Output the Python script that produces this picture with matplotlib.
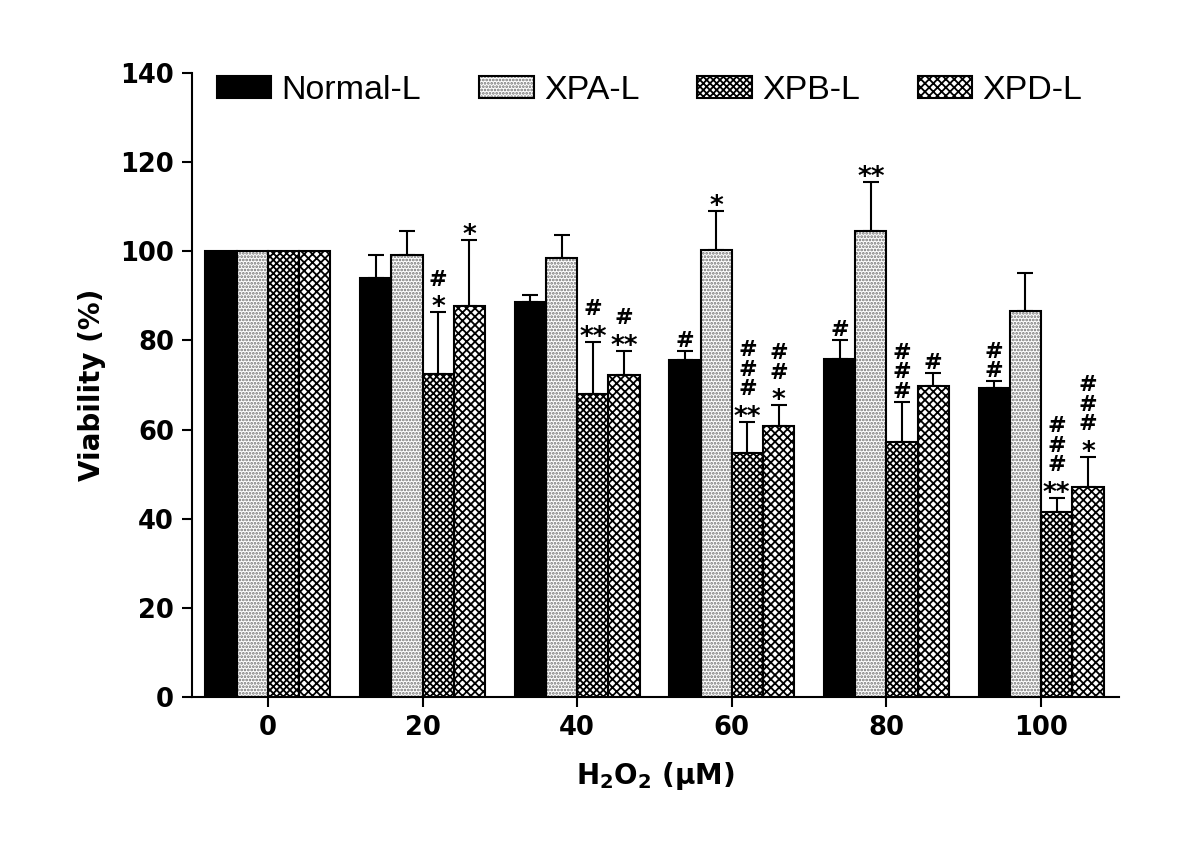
import numpy as np
import matplotlib
matplotlib.use("Agg")
import matplotlib.pyplot as plt
import matplotlib.patches as mpatches

plt.rcParams['font.family'] = ['DejaVu Sans']
plt.rcParams['mathtext.default'] = 'bf'
plt.rcParams['hatch.linewidth'] = 1.3

# data
doses = ['0', '20', '40', '60', '80', '100']
series = ['Normal-L', 'XPA-L', 'XPB-L', 'XPD-L']
normal_vals = [100, 94.0, 88.7, 75.6, 75.9, 69.3]
normal_err = [0, 5.2, 1.4, 2.1, 4.2, 1.5]
xpa_vals = [100, 99.2, 98.6, 100.3, 104.6, 86.5]
xpa_err = [0, 5.4, 5.1, 8.7, 11.0, 8.6]
xpb_vals = [100, 72.5, 67.9, 54.8, 57.2, 41.6]
xpb_err = [0, 13.8, 11.8, 6.9, 9.0, 3.1]
xpd_vals = [100, 87.7, 72.2, 60.7, 69.8, 47.0]
xpd_err = [0, 14.8, 5.5, 4.7, 2.9, 6.9]

# significance marks above each bar: stars, then number of '#'
normal_stars = ['', '', '', '', '', '']
normal_hash = [0, 0, 0, 1, 1, 2]
xpa_stars = ['', '', '', '*', '**', '']
xpa_hash = [0, 0, 0, 0, 0, 0]
xpb_stars = ['', '*', '**', '**', '', '**']
xpb_hash = [0, 1, 1, 3, 3, 3]
xpd_stars = ['', '*', '**', '*', '', '*']
xpd_hash = [0, 0, 1, 2, 1, 3]

vals = [normal_vals, xpa_vals, xpb_vals, xpd_vals]
errs = [normal_err, xpa_err, xpb_err, xpd_err]
stars = [normal_stars, xpa_stars, xpb_stars, xpd_stars]
hashes = [normal_hash, xpa_hash, xpb_hash, xpd_hash]
# (face, hatch, hatch colour)
styles = [('black', '', 'black'),
          ('white', '.....', '#707070'),
          ('white', 'xxxxx', 'black'),
          ('white', 'xxxx', 'black')]

fig = plt.figure(figsize=(12, 8.44), dpi=100)
ax = fig.add_axes([0.16, 0.1742, 0.7725, 0.7393])

x = np.arange(len(doses))
w = 0.202
star_fs = 19
hash_fs = 16
handles = []
for i, (v, e) in enumerate(zip(vals, errs)):
    face, hatch, hcol = styles[i]
    pos = x + (i - 1.5) * w
    ax.bar(pos, v, w, color=face, hatch=hatch, edgecolor=hcol, linewidth=0, zorder=2)
    ax.bar(pos, v, w, fill=False, edgecolor='black', linewidth=1.5, zorder=3)
    e = np.array(e)
    sel = e > 0
    ax.errorbar(pos[sel], np.array(v)[sel], yerr=[np.zeros(sel.sum()), e[sel]],
                fmt='none', ecolor='black', elinewidth=1.5, capsize=5.8, capthick=1.5, zorder=1)
    for j in range(len(doses)):
        top = v[j] + e[j]
        off = 0
        if stars[i][j]:
            ax.annotate(stars[i][j], (pos[j], top), xytext=(0, -6.4), textcoords='offset points',
                        ha='center', va='bottom', fontsize=star_fs, fontweight='bold', zorder=4)
            off = -6.4 + 1.17 * star_fs + 0.5
        if hashes[i][j]:
            ax.annotate('\n'.join(['#'] * hashes[i][j]), (pos[j], top), xytext=(0, off),
                        textcoords='offset points', ha='center', va='bottom',
                        fontsize=hash_fs, fontweight='bold', linespacing=0.97, zorder=4)
    handles.append((mpatches.Patch(facecolor=face, hatch=hatch, edgecolor=hcol, linewidth=0),
                    mpatches.Patch(fill=False, edgecolor='black', linewidth=1.5)))

ax.set_xlim(-0.491, 5.504)
ax.set_ylim(0, 140)
ax.set_yticks(np.arange(0, 141, 20))
ax.set_xticks(x)
ax.set_xticklabels(doses)
for s in ['top', 'right']:
    ax.spines[s].set_visible(False)
for s in ['left', 'bottom']:
    ax.spines[s].set_linewidth(1.5)
ax.tick_params(direction='out', length=7, width=1.5, labelsize=18.5, pad=6)
for lab in ax.get_xticklabels() + ax.get_yticklabels():
    lab.set_fontweight('bold')

ax.set_ylabel('Viability (%)', fontsize=20, fontweight='bold', labelpad=10)
ax.set_xlabel(r'H$_2$O$_2$ ($\mu$M)', fontsize=20, fontweight='bold', labelpad=14)

ax.legend(handles, series, loc='upper left', bbox_to_anchor=(0.027, 0.997), ncol=4,
          frameon=False, handlelength=1.6, handleheight=0.62, handletextpad=0.3,
          columnspacing=1.7, borderpad=0, borderaxespad=0,
          prop={'family': 'Liberation Sans', 'size': 24.5})

plt.savefig('out.png', dpi=100)
